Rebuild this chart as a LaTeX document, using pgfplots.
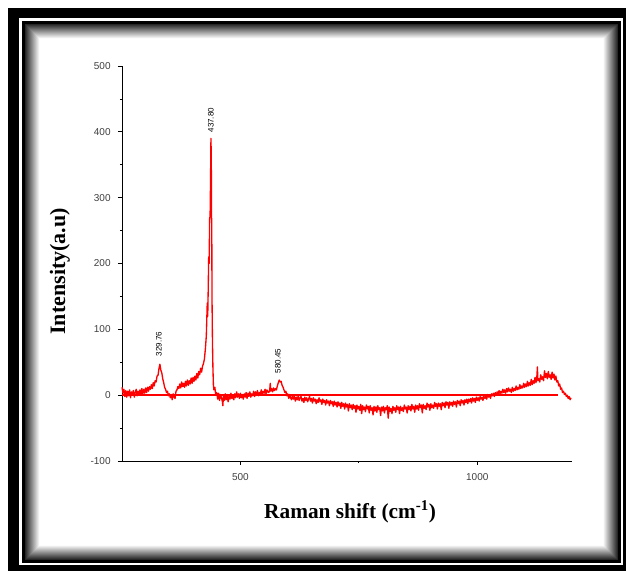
\documentclass[border=0pt]{standalone}
\usepackage{fontspec}
\setmainfont{Liberation Sans}
\newfontfamily\tnr{Liberation Serif}
\usepackage{pgfplots}
\pgfplotsset{compat=1.18}

\pgfplotstableread{
x y
250 12
252 3
254 9
256 -2
258 7
260 -3
262 6
264 -1
266 8
268 -4
270 5
272 0
274 7
276 -3
278 4
280 9
282 -1
284 6
286 1
288 8
290 0
292 10
294 2
296 9
298 3
300 11
302 4
304 12
306 6
308 13
310 9
312 16
314 10
316 19
318 14
320 22
322 20
324 29
326 30
328 40
330 47
332 38
334 34
336 25
338 19
340 12
342 9
344 4
346 6
348 -1
350 2
352 -4
354 1
356 -7
358 2
360 -3
362 -5
364 6
366 8
368 13
370 10
372 17
374 11
376 20
378 13
380 18
382 12
384 21
386 14
388 23
390 15
392 22
394 17
396 26
398 18
400 27
402 21
404 29
406 23
408 33
410 26
412 36
414 31
416 41
418 35
420 44
422 48
424 55
426 70
428 90
430 140
431 120
432 160
433 210
434 200
435 268
436 272
437 330
437.8 390
438.5 360
439 270
439.5 265
440 150
441 80
442 40
443 15
444 8
446 12
448 0
450 4
452 -6
454 3
456 -8
458 1
460 -4
462 -10
463 -16
464 -2
466 -8
468 2
470 -7
472 1
474 -10
476 -2
478 -6
480 3
482 -5
484 -1
486 -7
488 2
490 -4
492 5
494 -3
496 2
498 -5
500 3
502 -4
504 1
506 -6
508 2
510 -3
512 4
514 -5
516 3
518 -2
520 5
522 -3
524 2
526 -1
528 6
530 -2
532 5
534 0
536 7
538 -1
540 4
542 1
544 8
546 2
548 6
550 3
552 9
554 2
556 8
558 5
560 4
562 9
563 18
564 6
566 10
568 5
570 11
572 7
574 10
576 8
578 14
580 19
582 23
584 20
586 21
588 15
590 12
592 8
594 4
596 6
598 -1
600 2
602 -5
604 1
606 -4
608 -7
610 0
612 -6
614 -2
616 -9
618 -3
620 -7
622 -1
624 -8
626 -4
628 -2
630 -9
632 -5
634 -11
636 -3
638 -8
640 -4
642 -10
644 -6
646 -2
648 -9
650 -5
652 -12
654 -4
656 -9
658 -6
660 -13
662 -7
664 -11
666 -4
668 -10
670 -7
672 -14
674 -6
676 -11
678 -8
680 -15
682 -7
684 -12
686 -9
688 -16
690 -8
692 -13
694 -10
696 -17
698 -9
700 -15
702 -11
704 -18
706 -10
708 -16
710 -12
712 -20
714 -11
716 -17
718 -13
720 -21
722 -12
724 -18
726 -14
728 -24
730 -13
732 -19
734 -15
736 -22
738 -14
740 -20
742 -16
744 -26
746 -15
748 -21
750 -17
752 -23
754 -14
756 -28
758 -16
760 -22
762 -18
764 -25
766 -15
768 -21
770 -17
772 -27
774 -16
776 -23
778 -19
780 -30
782 -17
784 -24
786 -18
788 -26
790 -16
792 -22
794 -19
796 -31
798 -18
800 -24
802 -17
804 -27
806 -19
808 -22
810 -16
812 -35
814 -18
816 -25
818 -20
820 -28
822 -17
824 -23
826 -19
828 -26
830 -16
832 -22
834 -18
836 -28
838 -17
840 -23
842 -19
844 -25
846 -15
848 -21
850 -18
852 -27
854 -16
856 -22
858 -17
860 -24
862 -14
864 -21
866 -17
868 -26
870 -15
872 -21
874 -16
876 -23
878 -13
880 -19
882 -15
884 -27
886 -14
888 -20
890 -16
892 -22
894 -12
896 -18
898 -14
900 -23
902 -13
904 -19
906 -15
908 -20
910 -11
912 -17
914 -13
916 -21
918 -12
920 -17
922 -13
924 -22
926 -11
928 -16
930 -12
932 -19
934 -10
936 -15
938 -11
940 -20
942 -10
944 -15
946 -11
948 -17
950 -9
952 -14
954 -10
956 -18
958 -8
960 -13
962 -9
964 -16
966 -7
968 -12
970 -8
972 -15
974 -7
976 -11
978 -6
980 -13
982 -6
984 -10
986 -5
988 -12
990 -4
992 -9
994 -5
996 -11
998 -3
1000 -8
1002 -4
1004 -9
1006 -2
1008 -6
1010 -3
1012 -8
1014 -1
1016 -5
1018 -2
1020 -6
1022 1
1024 -3
1026 0
1028 -5
1030 2
1032 -1
1034 3
1036 -2
1038 4
1040 0
1042 5
1044 1
1046 7
1048 2
1050 6
1052 3
1054 9
1056 4
1058 8
1060 3
1062 10
1064 5
1066 11
1068 6
1070 9
1072 4
1074 12
1076 6
1078 10
1080 7
1082 14
1084 8
1086 12
1088 9
1090 16
1092 10
1094 14
1096 11
1098 18
1100 12
1102 17
1104 13
1106 21
1108 14
1110 19
1112 15
1114 24
1116 16
1118 22
1120 18
1122 27
1124 19
1126 30
1127 43
1128 22
1130 25
1132 20
1134 31
1136 24
1138 28
1140 22
1142 37
1144 27
1146 33
1148 25
1150 36
1152 27
1154 31
1156 24
1158 35
1160 26
1162 32
1164 23
1166 29
1168 20
1170 22
1172 14
1174 17
1176 9
1178 11
1180 4
1182 6
1184 1
1186 3
1188 -2
1190 0
1192 -5
1194 -2
1196 -7
1198 -4
}\spectrum

\pgfplotstableread{
x y
250 0
700 0
1170 0
}\baseline

\begin{document}
\begin{tikzpicture}
% decorative frame, 1 unit = 1 px of the reference
\begin{scope}[x=0.75pt,y=0.75pt]
\path[use as bounding box] (0,0) rectangle (626,571);
\clip (0,0) rectangle (626,571);
\fill[white] (0,0) rectangle (626,571);
\fill[black] (8,-20) rectangle (640,563);
\fill[white] (19,6) rectangle (623,553);
\fill[black] (22,8) rectangle (621,550);
\foreach \i in {0,...,15} {
  \pgfmathsetmacro\shadeval{max(0,85-6*\i)}
  \fill[black!\shadeval] (25+\i,11+\i) rectangle (618-\i,547-\i);
}
\end{scope}

\begin{axis}[
    at={(91.5pt,82.5pt)}, anchor=south west,
    scale only axis,
    width=337.5pt, height=296.25pt,
    xmin=250, xmax=1200,
    ymin=-100, ymax=500,
    axis lines*=left,
    axis line style={line width=0.6pt},
    xtick={500,1000}, minor xtick={750},
    ytick={-100,0,...,500}, minor ytick={-50,50,...,450},
    tick align=outside,
    major tick length=3pt, minor tick length=1.5pt,
    tick style={black, line width=0.6pt},
    /pgf/number format/assume math mode=true,
    /pgf/number format/1000 sep={},
    ticklabel style={font=\fontsize{7.5}{8}\selectfont, text=black!75},
    yticklabel style={xshift=-2pt},
    xticklabel style={yshift=-3pt},
    xlabel={\tnr\bfseries Raman shift (cm\textsuperscript{-1})},
    ylabel={\tnr\bfseries Intensity(a.u)},
    xlabel style={at={(axis description cs:0.507,-0.129)}, anchor=center, font=\fontsize{16}{18}\selectfont},
    ylabel style={at={(axis description cs:-0.138,0.48)}, anchor=center, font=\fontsize{16.5}{18}\selectfont},
    clip=false
]
\addplot[color=red, line width=1.2pt] table[x=x, y=y] {\baseline};
\addplot[color=red, line width=1pt, line join=round] table[x=x, y=y] {\spectrum};
\node[rotate=90, anchor=west, font=\fontsize{6}{7}\selectfont] at (axis cs:328,52) {329.76};
\node[rotate=90, anchor=west, font=\fontsize{6}{7}\selectfont] at (axis cs:437.5,392) {437.80};
\node[rotate=90, anchor=west, font=\fontsize{6}{7}\selectfont] at (axis cs:579,26) {580.45};
\end{axis}
\end{tikzpicture}
\end{document}
